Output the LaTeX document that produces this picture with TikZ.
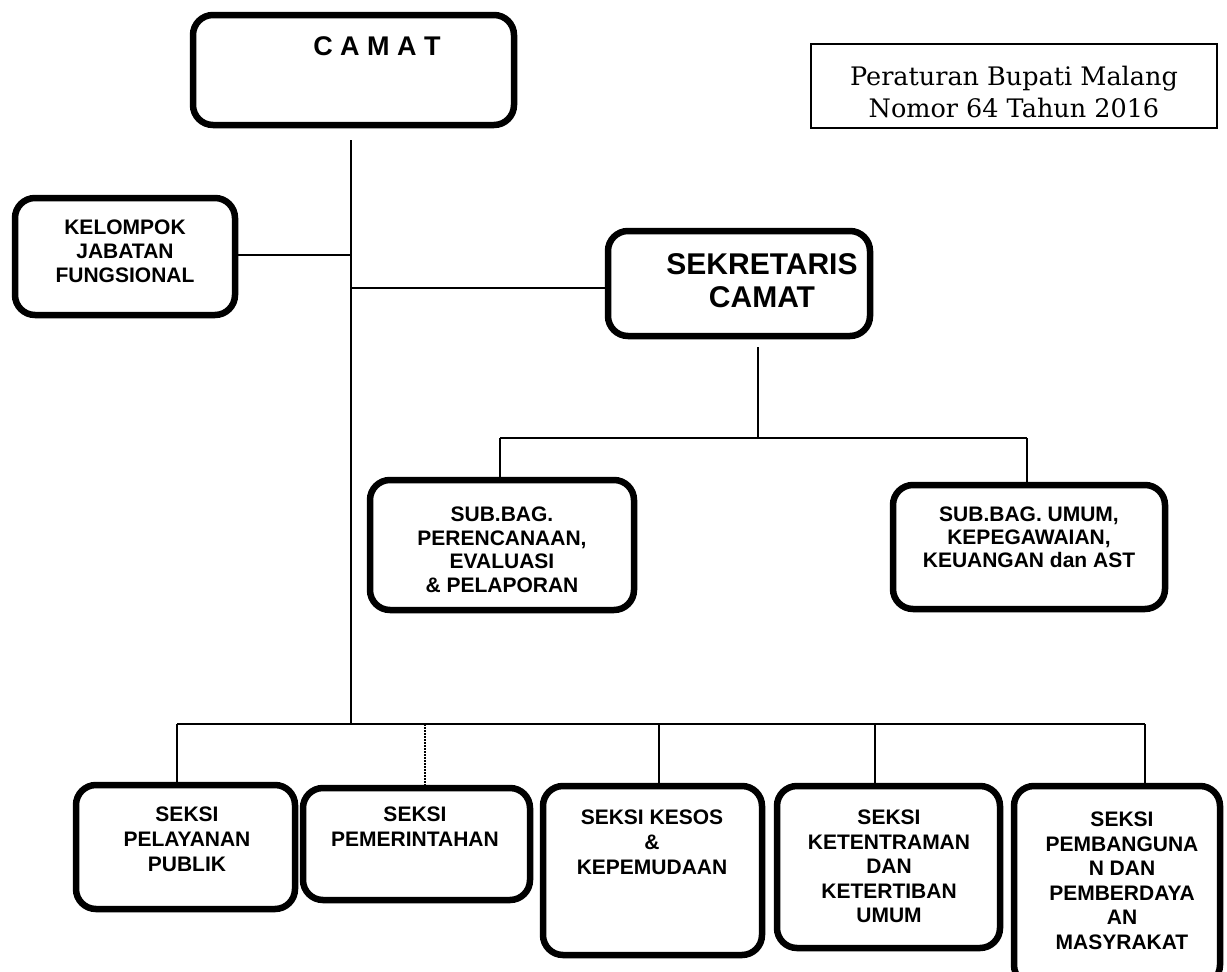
\documentclass[tikz,border=0pt]{standalone}
\usepackage{fontspec}
\setmainfont{Liberation Sans}
\newfontfamily\bookfont{DejaVu Serif}
\begin{document}
\begin{tikzpicture}[x=1pt,y=-1pt,
  orgbox/.style={draw, line width=6.5pt, rounded corners=20pt, inner sep=0pt},
  conn/.style={line width=1.5pt},
  lbl/.style={font=\bfseries\fontsize{21}{#1}\selectfont, align=center, inner sep=0pt, anchor=north},
]
\useasboundingbox (0,0) rectangle (1227,972);
\clip (0,0) rectangle (1227,972);

% boxes
\node[orgbox, minimum width=321pt, minimum height=110pt] (camat) at (353.5,70) {};
\node[draw, line width=2pt, minimum width=406pt, minimum height=84pt, inner sep=0pt] (perbup) at (1014,86) {};
\node[orgbox, minimum width=220pt, minimum height=117pt] (kjf) at (125,256.5) {};
\node[orgbox, minimum width=262pt, minimum height=105pt] (sek) at (739,283.5) {};
\node[orgbox, minimum width=264pt, minimum height=130pt] (sbp) at (502,545) {};
\node[orgbox, minimum width=272pt, minimum height=124pt] (sbu) at (1029,547) {};
\node[orgbox, minimum width=219pt, minimum height=124pt] (b1) at (185.5,847) {};
\node[orgbox, minimum width=227pt, minimum height=112pt] (b2) at (416.5,844) {};
\node[orgbox, minimum width=219pt, minimum height=169pt] (b3) at (652.5,870.5) {};
\node[orgbox, minimum width=223pt, minimum height=162pt] (b4) at (888.5,867) {};
\node[orgbox, minimum width=206pt, minimum height=199pt] (b5) at (1117,885.5) {};

% texts
\node[font=\bfseries\fontsize{27}{30}\selectfont, anchor=base, inner sep=0pt] (tcamat) at (377,55) {C A M A T};
\node[font=\bookfont\fontsize{25.5}{33}\selectfont, anchor=base, inner sep=0pt] (tperbup1) at (1014,85) {Peraturan Bupati Malang};
\node[font=\bookfont\fontsize{25.5}{33}\selectfont, anchor=base, inner sep=0pt] (tperbup2) at (1014,117) {Nomor 64 Tahun 2016};
\node[lbl=24] (tkjf) at (125,220) {KELOMPOK\\JABATAN\\FUNGSIONAL};
\node[font=\bfseries\fontsize{30}{33}\selectfont, align=center, inner sep=0pt, anchor=north] (tsek) at (762,253.5) {SEKRETARIS\\CAMAT};
\node[lbl=23.5] (tsbp) at (502,507) {SUB.BAG.\\PERENCANAAN,\\EVALUASI\\\& PELAPORAN};
\node[lbl=23] (tsbu) at (1029,507) {SUB.BAG. UMUM,\\KEPEGAWAIAN,\\KEUANGAN dan AST};
\node[lbl=25] (tb1) at (187,807) {SEKSI\\PELAYANAN\\PUBLIK};
\node[lbl=25] (tb2) at (415,807) {SEKSI\\PEMERINTAHAN};
\node[lbl=25] (tb3) at (652,810) {SEKSI KESOS\\\&\\KEPEMUDAAN};
\node[lbl=24.5] (tb4) at (889,810) {SEKSI\\KETENTRAMAN\\DAN\\KETERTIBAN\\UMUM};
\node[lbl=24.5] (tb5) at (1122,812) {SEKSI\\PEMBANGUNA\\N DAN\\PEMBERDAYA\\AN\\MASYRAKAT};

% connectors
\coordinate (t0) at (351,140);
\coordinate (t1) at (351,724);
\draw[conn] (t0) -- (t1);
\coordinate (jk) at (351,255);
\draw[conn] (jk) -- (kjf.east |- jk);
\coordinate (js) at (351,288);
\draw[conn] (js) -- (sek.west |- js);

\coordinate (s0) at (758,347);
\coordinate (s1) at (758,438);
\draw[conn] (s0) -- (s1);
\coordinate (sl) at (500,438);
\coordinate (sr) at (1027,438);
\draw[conn] (sl) -- (sr);
\draw[conn] (sl) -- (sl |- sbp.north);
\draw[conn] (sr) -- (sr |- sbu.north);

\coordinate (d1) at (177,724);
\coordinate (d2) at (425,724);
\coordinate (d3) at (659,724);
\coordinate (d4) at (875,724);
\coordinate (d5) at (1145,724);
\draw[conn] (d1) -- (d5);
\draw[conn] (d1) -- (d1 |- b1.north);
\draw[conn, dash pattern=on 1.5pt off 1.5pt] (d2) -- (d2 |- b2.north);
\draw[conn] (d3) -- (d3 |- b3.north);
\draw[conn] (d4) -- (d4 |- b4.north);
\draw[conn] (d5) -- (d5 |- b5.north);
\end{tikzpicture}
\end{document}
